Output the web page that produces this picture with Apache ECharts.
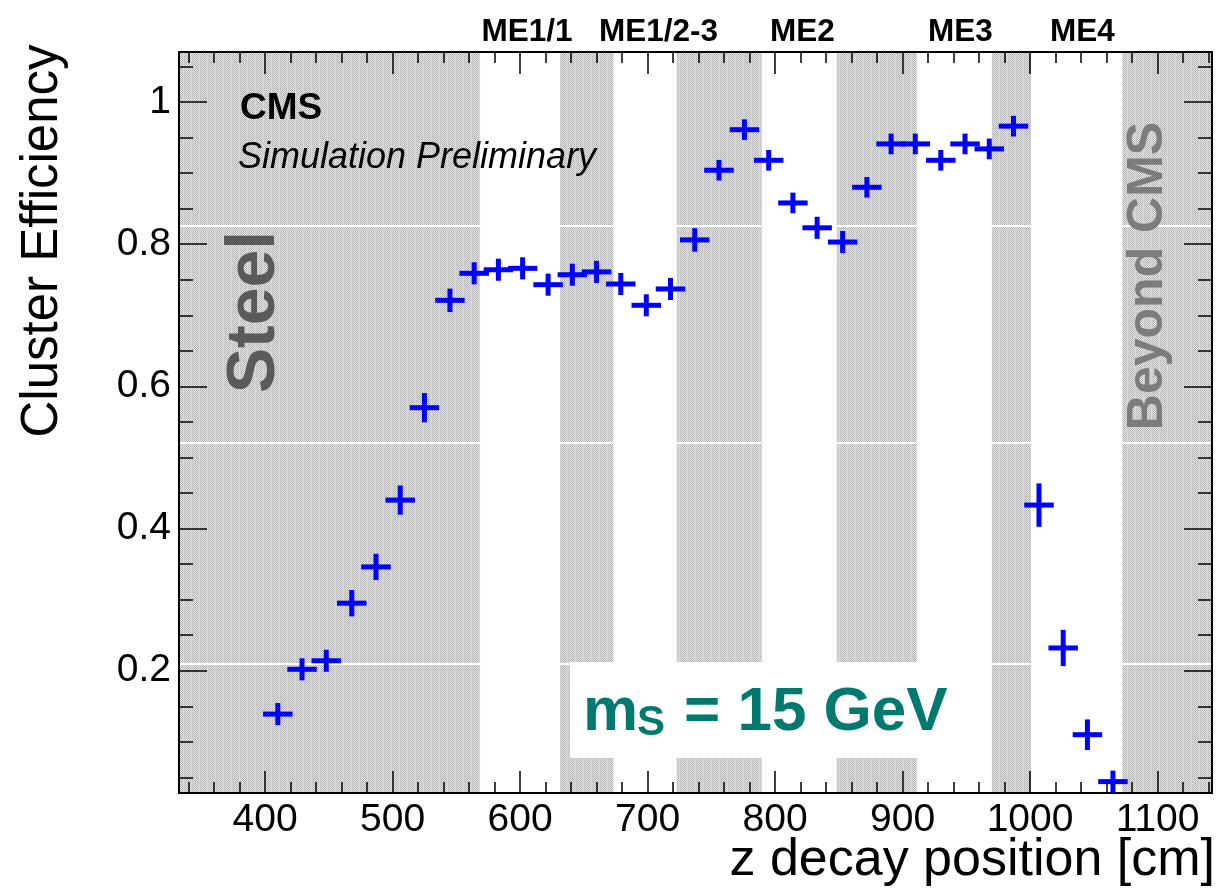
<!DOCTYPE html>
<html>
<head>
<meta charset="utf-8">
<title>Cluster Efficiency vs z</title>
<script src="https://cdn.jsdelivr.net/npm/echarts@6.0.0/dist/echarts.min.js"></script>
<style>
  html, body { margin: 0; padding: 0; background: #fff; }
  #chart { width: 1225px; height: 894px; }
</style>
</head>
<body>
<div id="chart"></div>
<script>
// bin centres, z decay position [cm]
const zPos = [410, 429, 448, 468, 487, 506, 525, 545, 564, 583, 602, 622, 641, 660, 679, 699, 718, 737,
  756, 776, 795, 814, 833, 853, 872, 891, 910, 930, 949, 968, 987, 1007, 1026, 1045, 1065]
// cluster efficiency per bin
const eff = [0.139, 0.202, 0.214, 0.295, 0.346, 0.440, 0.570, 0.721, 0.759, 0.764, 0.766, 0.743, 0.757,
  0.761, 0.744, 0.714, 0.737, 0.806, 0.904, 0.961, 0.918, 0.858, 0.823, 0.803, 0.880, 0.941, 0.941,
  0.918, 0.941, 0.934, 0.966, 0.433, 0.232, 0.110, 0.044]
// stat. error on efficiency
const effErr = [0.012, 0.012, 0.012, 0.015, 0.015, 0.017, 0.017, 0.013, 0.012, 0.012, 0.012, 0.012, 0.012,
  0.012, 0.012, 0.012, 0.012, 0.013, 0.011, 0.011, 0.011, 0.011, 0.012, 0.012, 0.011, 0.011, 0.011,
  0.011, 0.011, 0.011, 0.011, 0.027, 0.022, 0.018, 0.012]
const binHalf = 9.6

// steel / non-station regions (hatched), the gaps between are the ME stations
const steelRegions = [[332.5, 568.6], [631.4, 673.2], [722.9, 789.6], [848.4, 911.1], [970, 1000.8], [1072.4, 1142.7]]
const stationNames = ['ME1/1', 'ME1/2-3', 'ME2', 'ME3', 'ME4']

// axis ticks
const xMajor = [400, 500, 600, 700, 800, 900, 1000, 1100]
const yMajor = [0.2, 0.4, 0.6, 0.8, 1]
const xMin = 332.5, xMax = 1142.7
const yMin = 0.028, yMax = 1.0703

const xMinor = []
for (let v = 340; v <= 1140; v += 20) {
  if (v % 100 !== 0) xMinor.push(v)
}
const yMinor = []
for (let i = 1; i <= 21; i++) {
  if (i % 4 !== 0) yMinor.push(Math.round(i * 5) / 100)
}

// little white seams in the hatch fill
const seams = [0.2096, 0.5203, 0.8256]

const FONT = '"Liberation Sans", Arial, Helvetica, sans-serif'

// stipple pattern like ROOT fill style
function makeHatch() {
  const c = document.createElement('canvas')
  c.width = 8
  c.height = 2
  const ctx = c.getContext('2d')
  ctx.fillStyle = '#e6e6e6'
  ctx.fillRect(0, 0, 8, 2)
  ctx.fillStyle = '#b2b2b2'
  for (let i = 0; i < 7; i++) {
    ctx.fillRect(i, i % 2, 1, 1)
  }
  ctx.fillStyle = '#cccccc'
  ctx.fillRect(7, 1, 1, 1)
  return c
}
const hatch = makeHatch()

function xAx(pos, ticks, len, withLabels) {
  return {
    type: 'value', min: xMin, max: xMax, position: pos, z: 3,
    axisLine: { show: true, onZero: false, lineStyle: { color: '#000', width: 2 } },
    axisTick: { show: true, inside: true, length: len, customValues: ticks, lineStyle: { color: '#000', width: 1.5 } },
    axisLabel: withLabels
      ? { show: true, customValues: xMajor, fontSize: 39, fontFamily: FONT, color: '#000', margin: 8,
          formatter: function (v) { return String(v) } }
      : { show: false },
    splitLine: { show: false }
  }
}
function yAx(pos, ticks, len, withLabels) {
  return {
    type: 'value', min: yMin, max: yMax, position: pos, z: 3,
    axisLine: { show: true, onZero: false, lineStyle: { color: '#000', width: 2 } },
    axisTick: { show: true, inside: true, length: len, customValues: ticks, lineStyle: { color: '#000', width: 1.5 } },
    axisLabel: withLabels
      ? { show: true, customValues: yMajor, fontSize: 39, fontFamily: FONT, color: '#000', margin: 8,
          formatter: function (v) { return String(v) } }
      : { show: false },
    splitLine: { show: false }
  }
}

function txt(text, x, y, size, opt) {
  opt = opt || {}
  return {
    type: 'text', z: 6, x: x, y: y, rotation: opt.rot || 0,
    style: {
      text: text,
      font: (opt.style || '') + ' ' + (opt.weight || 'normal') + ' ' + size + 'px ' + FONT,
      fill: opt.color || '#000',
      align: opt.align || 'left',
      verticalAlign: 'middle'
    }
  }
}

const chart = echarts.init(document.getElementById('chart'))

const stationX = [527, 658.5, 802.5, 960.5, 1082.5]

chart.setOption({
  animation: false,
  backgroundColor: '#fff',
  grid: { left: 179, right: 13, top: 52, bottom: 101, containLabel: false, outerBoundsMode: 'none' },
  xAxis: [xAx('bottom', xMajor, 22, true), xAx('bottom', xMinor, 11, false),
    xAx('top', xMajor, 22, false), xAx('top', xMinor, 11, false)],
  yAxis: [yAx('left', yMajor, 28, true), yAx('left', yMinor, 14, false),
    yAx('right', yMajor, 28, false), yAx('right', yMinor, 14, false)],
  series: [
    {
      // hatched background regions
      type: 'custom',
      z: 1,
      silent: true,
      xAxisIndex: 0,
      yAxisIndex: 0,
      data: steelRegions,
      renderItem: function (params, api) {
        const x0 = api.value(0), x1 = api.value(1)
        const tl = api.coord([x0, yMax])
        const br = api.coord([x1, yMin])
        const kids = [{
          type: 'rect',
          shape: { x: tl[0], y: tl[1], width: br[0] - tl[0], height: br[1] - tl[1] },
          style: { fill: { image: hatch, repeat: 'repeat' } }
        }]
        seams.forEach(function (s) {
          const p = api.coord([x0, s])
          kids.push({
            type: 'line',
            shape: { x1: tl[0], y1: p[1], x2: br[0], y2: p[1] },
            style: { stroke: '#fff', lineWidth: 2 }
          })
        })
        return { type: 'group', children: kids }
      }
    },
    {
      // data points with x/y error bars
      type: 'custom',
      z: 4,
      xAxisIndex: 0,
      yAxisIndex: 0,
      data: zPos.map(function (z, i) { return [z, eff[i], effErr[i]] }),
      renderItem: function (params, api) {
        const x = api.value(0), y = api.value(1), e = api.value(2)
        const l = api.coord([x - binHalf, y])
        const r = api.coord([x + binHalf, y])
        const t = api.coord([x, y + e])
        const b = api.coord([x, y - e])
        const st = { stroke: '#0000ff', lineWidth: 5, lineCap: 'square' }
        return {
          type: 'group',
          children: [
            { type: 'line', shape: { x1: l[0], y1: l[1], x2: r[0], y2: r[1] }, style: st },
            { type: 'line', shape: { x1: t[0], y1: t[1], x2: b[0], y2: b[1] }, style: st }
          ]
        }
      }
    }
  ],
  graphic: [
    // white box behind the mass label
    { type: 'rect', z: 2, shape: { x: 570, y: 662, width: 405, height: 96 }, style: { fill: '#fff' } },
    txt('CMS', 240, 109, 37, { weight: 'bold' }),
    txt('Simulation Preliminary', 238, 158, 36, { style: 'italic' }),
    txt('Steel', 255, 312, 68, { weight: 'bold', color: '#5a5a5a', align: 'center', rot: Math.PI / 2 }),
    txt('Beyond CMS', 1148, 276, 50, { weight: 'bold', color: '#7c7c7c', align: 'center', rot: Math.PI / 2 }),
    txt('m', 583, 713, 62, { weight: 'bold', color: '#007a6e' }),
    txt('S', 637, 723, 42, { weight: 'bold', color: '#007a6e' }),
    txt('= 15 GeV', 684, 713, 62, { weight: 'bold', color: '#007a6e' }),
    txt('Cluster Efficiency', 43, 241, 51, { align: 'center', rot: Math.PI / 2 }),
    txt('z decay position [cm]', 1215, 861, 52, { align: 'right' })
  ].concat(stationNames.map(function (n, i) {
    return txt(n, stationX[i], 32, 31.5, { weight: 'bold', align: 'center' })
  }))
})
</script>
</body>
</html>
